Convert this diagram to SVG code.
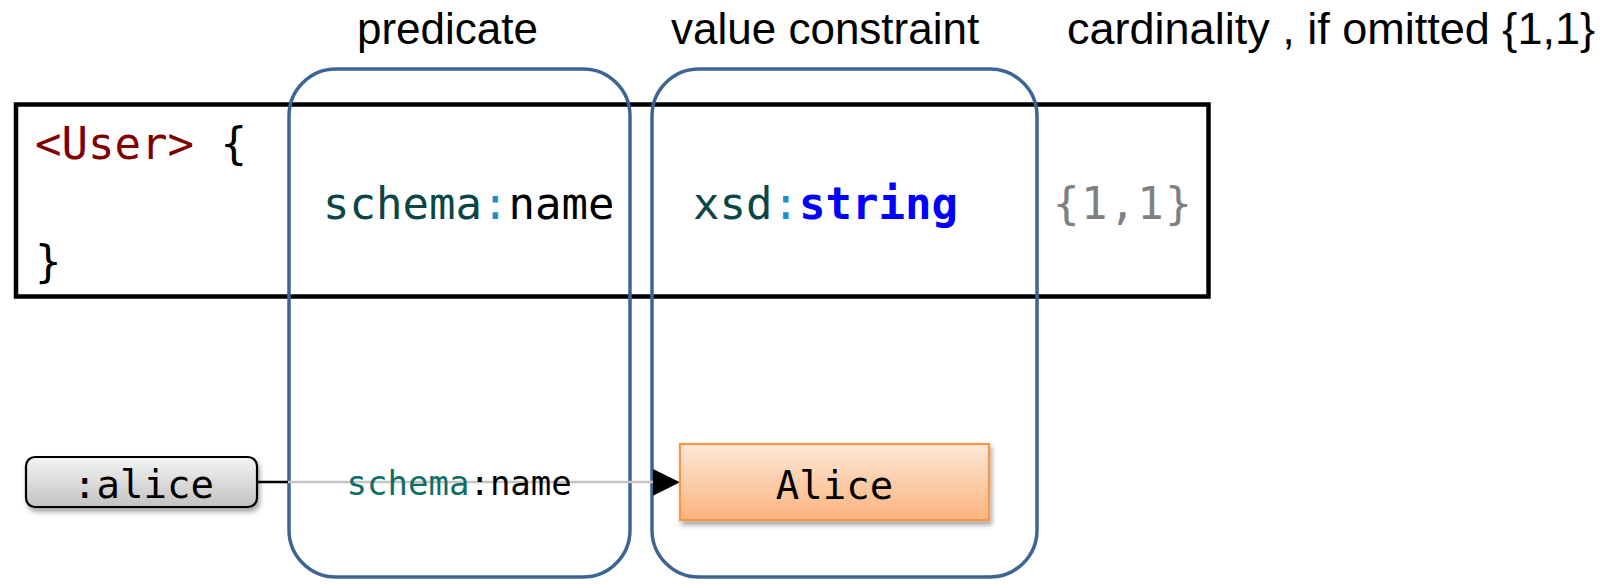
<svg xmlns="http://www.w3.org/2000/svg" width="1605" height="584" viewBox="0 0 1605 584">
  <style>
    .label { font-family: "Liberation Sans", Arial, sans-serif; font-size: 44px; fill: #000; }
    .code { font-family: "DejaVu Sans Mono", "Liberation Mono", monospace; font-size: 44px; }
    .small { font-family: "DejaVu Sans Mono", "Liberation Mono", monospace; }
    .frame { fill: none; stroke: #3d6594; stroke-width: 3.5; }
    .pfx { fill: #0a4646; }
    .colon { fill: #1b8fce; }
    .iri { fill: #800000; }
    .kw { fill: #0000ff; font-weight: bold; }
    .card { fill: #808080; }
  </style>
  <defs>
    <linearGradient id="grayFill" x1="0" y1="0" x2="0" y2="1">
      <stop offset="0" stop-color="#f4f4f4"/>
      <stop offset="1" stop-color="#c3c3c3"/>
    </linearGradient>
    <linearGradient id="orangeFill" x1="0" y1="0" x2="0" y2="1">
      <stop offset="0" stop-color="#fde8d8"/>
      <stop offset="1" stop-color="#fbb37c"/>
    </linearGradient>
    <filter id="shadow" x="-10%" y="-30%" width="120%" height="160%">
      <feDropShadow dx="2" dy="4" stdDeviation="2.5" flood-color="#000" flood-opacity="0.35"/>
    </filter>
  </defs>

  <rect width="1605" height="584" fill="#fff"/>

  <!-- column headings -->
  <text class="label" x="357" y="44">predicate</text>
  <text class="label" x="671" y="44">value constraint</text>
  <text class="label" x="1067" y="44" textLength="528" lengthAdjust="spacingAndGlyphs">cardinality , if omitted {1,1}</text>

  <!-- shape declaration -->
  <g id="shape-user">
    <rect x="16" y="104.5" width="1192.5" height="192" fill="none" stroke="#000" stroke-width="4.5"/>
    <text class="code" x="35" y="159"><tspan class="iri">&lt;User&gt;</tspan><tspan fill="#000"> {</tspan></text>
    <text class="code" x="323" y="219"><tspan class="pfx">schema</tspan><tspan class="colon">:</tspan><tspan fill="#000">name</tspan></text>
    <text class="code" x="693" y="219"><tspan class="pfx">xsd</tspan><tspan class="colon">:</tspan><tspan class="kw">string</tspan></text>
    <text class="code card" x="1053" y="219" letter-spacing="1.6">{1,1}</text>
    <text class="code" x="35" y="277" fill="#000">}</text>
  </g>

  <!-- highlighted columns -->
  <g id="predicate-frame">
    <rect class="frame" x="289" y="69" width="341" height="508" rx="47" ry="47"/>
  </g>
  <g id="value-frame">
    <rect class="frame" x="652" y="69" width="385" height="508" rx="47" ry="47"/>
  </g>

  <!-- data graph edge -->
  <g id="connectors">
    <line x1="257" y1="482" x2="288" y2="482" stroke="#000" stroke-width="2.5"/>
    <line x1="288" y1="482" x2="655" y2="482" stroke="#c4c4c4" stroke-width="2.4"/>
    <polygon points="653,469 680,482.3 653,495.7" fill="#000"/>
    <text class="small" x="346.6" y="494.5" font-size="34"><tspan fill="#0e6e68">schema</tspan><tspan fill="#000">:name</tspan></text>
  </g>

  <!-- data graph nodes -->
  <g id="node-alice">
    <rect x="26" y="457" width="231" height="50" rx="9" ry="9" fill="url(#grayFill)" stroke="#000" stroke-width="2.2" filter="url(#shadow)"/>
    <text class="small" x="143.5" y="497.5" font-size="39" text-anchor="middle" fill="#000">:alice</text>
  </g>
  <g id="node-literal">
    <rect x="680" y="444" width="309" height="76" fill="url(#orangeFill)" stroke="#f79646" stroke-width="2.2" filter="url(#shadow)"/>
    <text class="small" x="834.5" y="498.5" font-size="39" text-anchor="middle" fill="#000">Alice</text>
  </g>
</svg>
